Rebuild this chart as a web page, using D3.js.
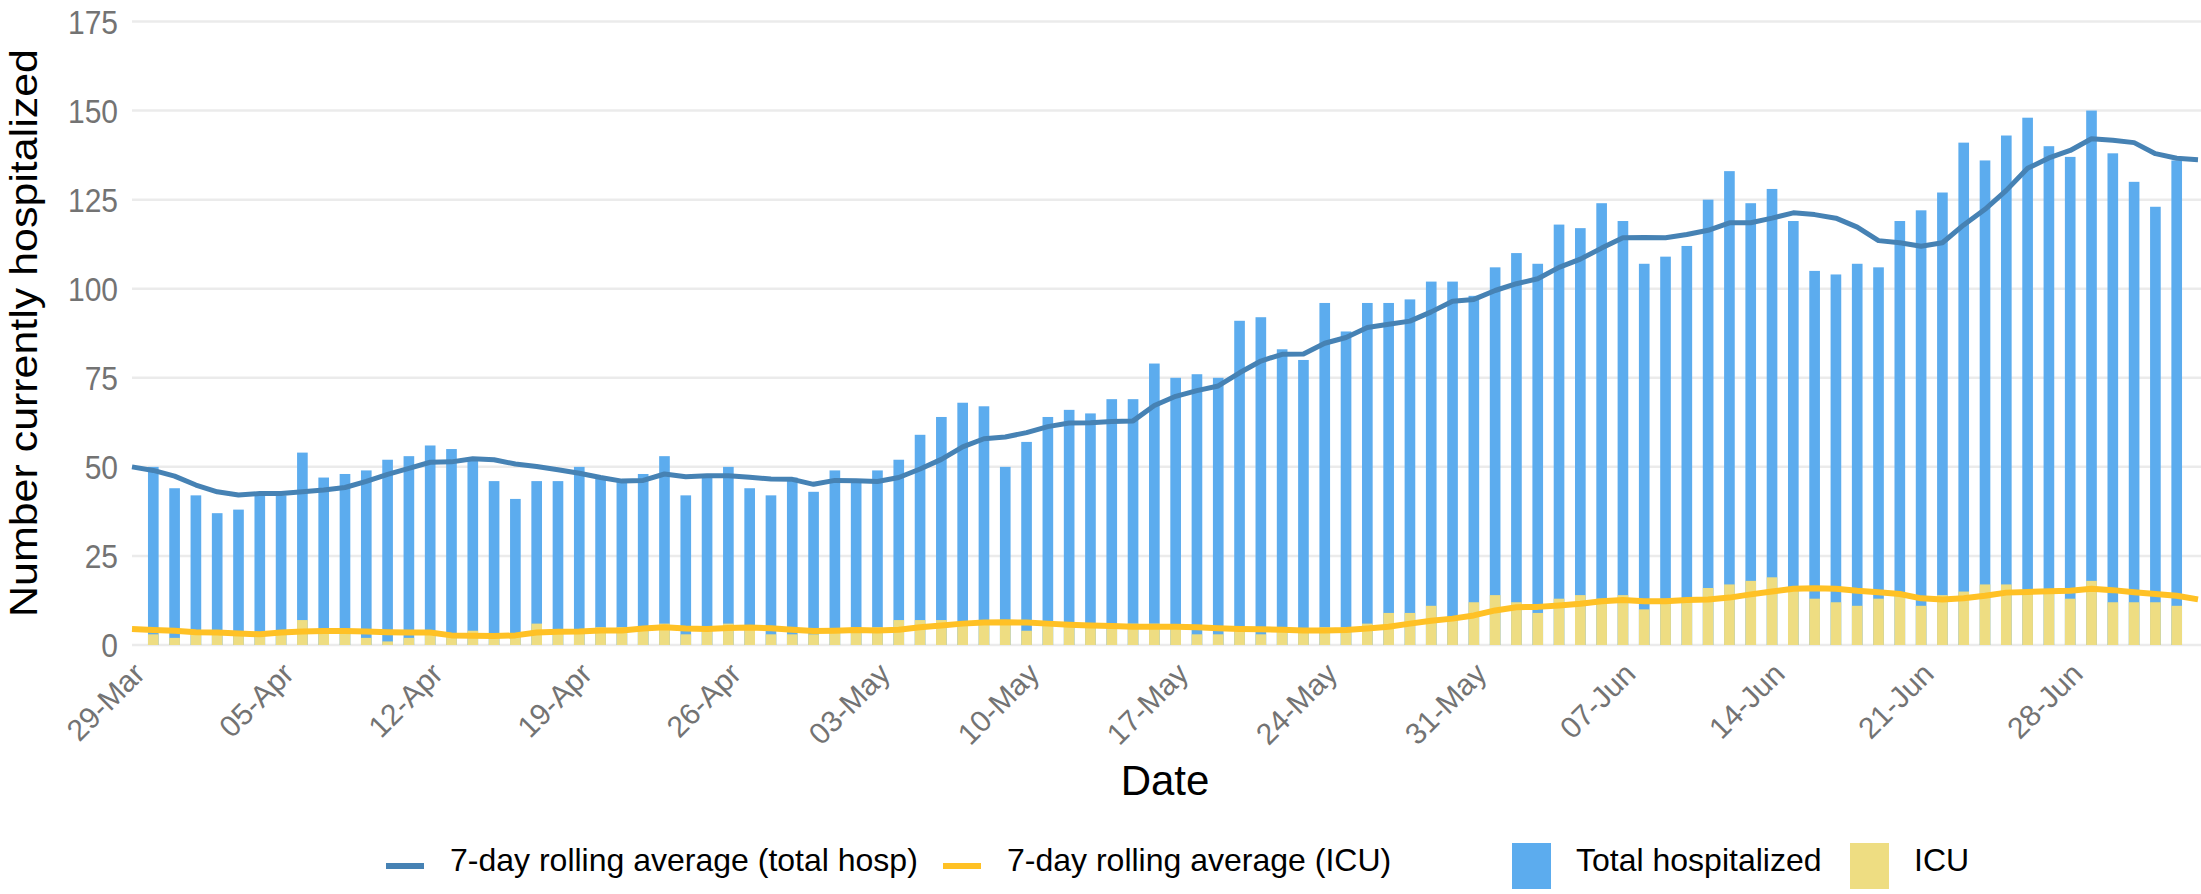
<!DOCTYPE html>
<meta charset="utf-8" />
<html>
<style>
  body { margin: 0; background: #fff; }
  text { font-family: "Liberation Sans", Arial, sans-serif; }
  .tick text { fill: #737373; }
</style>
<body>
<svg width="2201" height="894"></svg>
<script src="https://cdn.jsdelivr.net/npm/d3@7"></script>
<script>

  // categories: one per day, 28-Mar to 03-Jul (lines use all, bars skip the two ends)
  var days = d3.timeDay.range(new Date(2020, 2, 28), new Date(2020, 6, 4));
  var fmt = d3.timeFormat("%d-%b");
  var dates = days.map(fmt);
  var barDates = dates.slice(1, dates.length - 1);

  var tickLabels = ["29-Mar", "05-Apr", "12-Apr", "19-Apr", "26-Apr", "03-May", "10-May",
    "17-May", "24-May", "31-May", "07-Jun", "14-Jun", "21-Jun", "28-Jun"];

  var yTicks = [0, 25, 50, 75, 100, 125, 150, 175];

  // daily totals, 29-Mar .. 02-Jul
  var totalHosp = [50, 44, 42, 37, 38, 42, 42, 54, 47, 48, 49, 52, 53, 56, 55, 52, 46, 41, 46, 46,
    50, 47, 46, 48, 53, 42, 47, 50, 44, 42, 47, 43, 49, 46, 49, 52, 59, 64, 68, 67,
    50, 57, 64, 66, 65, 69, 69, 79, 75, 76, 75, 91, 92, 83, 80, 96, 88, 96, 96, 97,
    102, 102, 98, 106, 110, 107, 118, 117, 124, 119, 107, 109, 112, 125, 133, 124, 128, 119, 105, 104,
    107, 106, 119, 122, 127, 141, 136, 143, 148, 140, 137, 150, 138, 130, 123, 136];

  var icu = [3, 2, 4, 4, 3, 3, 4, 7, 4, 4, 2, 1, 2, 4, 3, 4, 3, 3, 6, 4,
    4, 5, 5, 5, 6, 3, 4, 6, 5, 3, 3, 3, 4, 5, 5, 7, 7, 7, 6, 6,
    6, 4, 6, 6, 6, 6, 6, 6, 5, 3, 3, 4, 3, 5, 4, 5, 5, 6, 9, 9,
    11, 7, 12, 14, 12, 9, 13, 14, 13, 14, 10, 13, 13, 16, 17, 18, 19, 16, 13, 12,
    11, 13, 14, 11, 14, 15, 17, 17, 15, 15, 13, 18, 12, 12, 12, 11];

  // 7-day rolling averages, 28-Mar .. 03-Jul
  var avgTotal = [50.0, 49.0, 47.4, 44.9, 43.0, 42.1, 42.5, 42.5, 43.0, 43.5,
    44.2, 45.9, 47.9, 49.6, 51.3, 51.4, 52.3, 52.0, 50.8, 50.1,
    49.2, 48.2, 47.0, 46.0, 46.2, 48.0, 47.2, 47.5, 47.5, 47.1,
    46.6, 46.5, 45.1, 46.2, 46.1, 45.9, 47.0, 49.4, 52.1, 55.6,
    57.9, 58.4, 59.6, 61.3, 62.3, 62.4, 62.7, 62.9, 67.2, 69.8,
    71.4, 72.7, 76.4, 79.7, 81.6, 81.7, 84.7, 86.3, 89.1, 90.0,
    90.9, 93.5, 96.5, 97.0, 99.5, 101.4, 102.8, 106.0, 108.3, 111.4,
    114.3, 114.4, 114.3, 115.2, 116.4, 118.5, 118.5, 119.8, 121.3, 120.8,
    119.8, 117.3, 113.5, 112.9, 111.9, 112.9, 117.9, 122.3, 127.6, 133.8,
    136.7, 138.8, 142.1, 141.7, 141.0, 137.9, 136.6, 136.2];

  var avgIcu = [4.5, 4.2, 4.0, 3.6, 3.5, 3.2, 3.0, 3.5, 3.8, 3.9,
    3.9, 3.8, 3.6, 3.5, 3.5, 2.7, 2.6, 2.5, 2.7, 3.5,
    3.7, 3.8, 4.1, 4.1, 4.6, 5.0, 4.6, 4.5, 4.8, 4.9,
    4.7, 4.3, 3.9, 4.0, 4.2, 4.1, 4.3, 5.0, 5.5, 6.0,
    6.3, 6.4, 6.3, 6.0, 5.7, 5.5, 5.3, 5.1, 5.1, 5.1,
    5.0, 4.7, 4.5, 4.4, 4.3, 4.1, 4.1, 4.2, 4.6, 5.1,
    6.0, 6.8, 7.4, 8.3, 9.7, 10.6, 10.7, 11.1, 11.6, 12.3,
    12.6, 12.3, 12.3, 12.6, 12.8, 13.3, 14.2, 15.0, 15.8, 15.9,
    15.8, 15.2, 14.8, 14.3, 13.1, 12.8, 13.1, 13.8, 14.7, 14.9,
    15.1, 15.2, 15.8, 15.4, 14.8, 14.3, 13.8, 12.8];

  var svg = d3.select("svg");

  var x = d3.scalePoint().domain(dates).range([132, 2198]);
  var y = d3.scaleLinear().domain([0, 175]).range([645, 21.5]);
  var barW = x.step() * 0.5;
  var textSY = 1.13; // the source picture is a little stretched vertically

  // gridlines
  svg.append("g")
    .selectAll("line")
    .data(yTicks)
    .enter()
    .append("line")
    .attr("x1", 132)
    .attr("x2", 2201)
    .attr("y1", function (d) { return y(d); })
    .attr("y2", function (d) { return y(d); })
    .attr("stroke", "#ebebeb")
    .attr("stroke-width", 2.5);

  // y tick labels
  svg.append("g")
    .attr("class", "tick")
    .selectAll("text")
    .data(yTicks)
    .enter()
    .append("text")
    .attr("transform", function (d) { return "translate(118," + y(d) + ") scale(1," + textSY + ")"; })
    .attr("text-anchor", "end")
    .attr("dy", "0.36em")
    .attr("font-size", "30px")
    .text(function (d) { return d; });

  // bars: total behind, ICU in front
  svg.append("g")
    .selectAll("rect")
    .data(barDates)
    .enter()
    .append("rect")
    .attr("x", function (d) { return x(d) - barW / 2; })
    .attr("width", barW)
    .attr("y", function (d, i) { return y(totalHosp[i]); })
    .attr("height", function (d, i) { return y(0) - y(totalHosp[i]); })
    .attr("fill", "#5CACEE");

  svg.append("g")
    .selectAll("rect")
    .data(barDates)
    .enter()
    .append("rect")
    .attr("x", function (d) { return x(d) - barW / 2; })
    .attr("width", barW)
    .attr("y", function (d, i) { return y(icu[i]); })
    .attr("height", function (d, i) { return y(0) - y(icu[i]); })
    .attr("fill", "#EEDD82");

  // rolling average lines
  var line = function (vals) {
    return d3.line()
      .x(function (d, i) { return x(dates[i]); })
      .y(function (d) { return y(d); })(vals);
  };

  svg.append("path")
    .attr("d", line(avgTotal))
    .attr("fill", "none")
    .attr("stroke", "#4682B4")
    .attr("stroke-width", 5)
    .attr("stroke-linejoin", "round");

  svg.append("path")
    .attr("d", line(avgIcu))
    .attr("fill", "none")
    .attr("stroke", "#FFC125")
    .attr("stroke-width", 6)
    .attr("stroke-linejoin", "round");

  // x axis labels (each tick group is already shifted to x(d))
  var xAxis = svg.append("g")
    .call(d3.axisBottom(x).tickValues(tickLabels).tickSize(0));
  xAxis.select(".domain").remove();
  xAxis.selectAll("text")
    .attr("transform", "translate(-15,668) rotate(-45)")
    .attr("x", 0)
    .attr("y", 0)
    .attr("dy", "0.36em")
    .attr("text-anchor", "end")
    .attr("font-size", "30px")
    .attr("font-family", "'Liberation Sans', Arial, sans-serif");

  // axis titles
  svg.append("text")
    .attr("transform", "translate(1165,795)")
    .attr("text-anchor", "middle")
    .attr("font-size", "42px")
    .attr("fill", "#000")
    .text("Date");

  svg.append("text")
    .attr("transform", "translate(37,333) scale(1," + textSY + ") rotate(-90)")
    .attr("text-anchor", "middle")
    .attr("font-size", "38px")
    .attr("fill", "#000")
    .text("Number currently hospitalized");

  // legend
  var legendItems = [
    { label: "7-day rolling average (total hosp)", kind: "line", color: "#4682B4" },
    { label: "7-day rolling average (ICU)", kind: "line", color: "#FFC125" },
    { label: "Total hospitalized", kind: "box", color: "#5CACEE" },
    { label: "ICU", kind: "box", color: "#EEDD82" }
  ];
  var legendX = [386, 943, 1512, 1850];

  var leg = svg.append("g")
    .selectAll("g")
    .data(legendItems)
    .enter()
    .append("g")
    .attr("transform", function (d, i) { return "translate(" + legendX[i] + ",0)"; });

  leg.filter(function (d) { return d.kind === "line"; })
    .append("rect")
    .attr("x", 0)
    .attr("y", 863)
    .attr("width", 38)
    .attr("height", 6)
    .attr("fill", function (d) { return d.color; });

  leg.filter(function (d) { return d.kind === "box"; })
    .append("rect")
    .attr("x", 0)
    .attr("y", 843)
    .attr("width", 39)
    .attr("height", 46)
    .attr("fill", function (d) { return d.color; });

  leg.append("text")
    .attr("x", 64)
    .attr("y", 871)
    .attr("font-size", "32px")
    .attr("fill", "#000")
    .text(function (d) { return d.label; });
</script>
</body>
</html>
